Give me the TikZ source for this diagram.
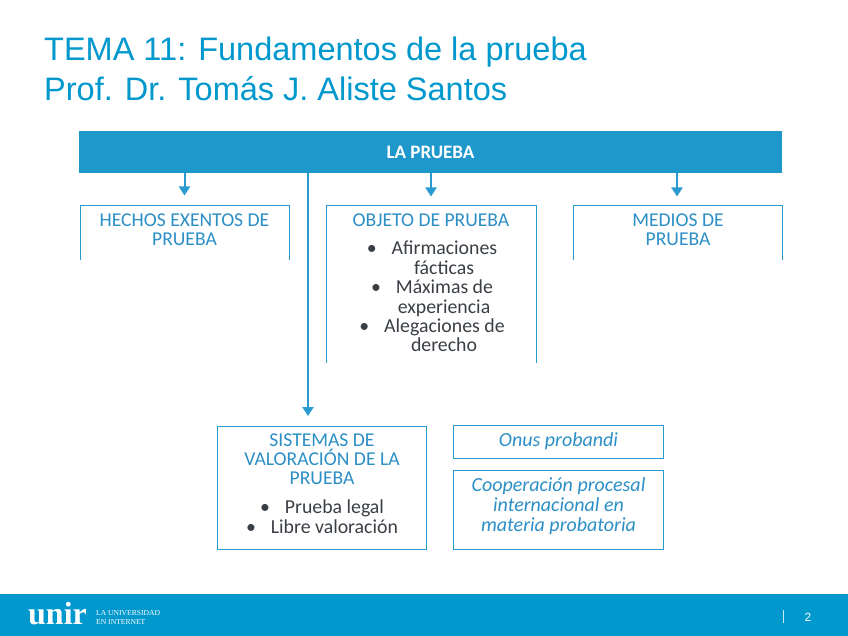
\documentclass[tikz,border=0pt]{standalone}
\usepackage{fontspec}
\setmainfont{Carlito}
\newfontfamily\titlefont{Liberation Sans}
\newfontfamily\logofont{Liberation Serif}
\usetikzlibrary{arrows.meta}
\definecolor{unirblue}{HTML}{0098CD}
\definecolor{barblue}{HTML}{1E97CB}
\definecolor{lineblue}{HTML}{2A9BD0}
\definecolor{headblue}{HTML}{2C8FC6}
\definecolor{bodygrey}{HTML}{3A3F45}
\newcommand{\vinieta}{\textbullet\hspace{15pt}}
\newcommand{\sangria}{\hspace*{24pt}}
\tikzset{x=1pt,y=-1pt,
    caja/.style={minimum width=#1,inner sep=0pt,outer sep=0pt,anchor=north},
    cabeza/.style={text=headblue,font=\fontsize{19.6}{19}\selectfont,align=center,anchor=north,inner sep=0pt},
    lista/.style={text=bodygrey,font=\fontsize{19.8}{19.4}\selectfont,align=center,anchor=north,inner sep=0pt},
    cursiva/.style={text=headblue,font=\fontsize{20}{20}\selectfont\itshape,align=center,inner sep=0pt},
    borde/.style={draw=lineblue,line width=1pt},
    flecha/.style={draw=lineblue,line width=2pt,-{Triangle[width=11pt,length=9pt]}},
    }
\begin{document}
\begin{tikzpicture}
\useasboundingbox (0,0) rectangle (848,636);
\fill[white] (0,0) rectangle (848,636);
% titulo
\node[anchor=base west,inner sep=0pt,text=unirblue,font=\fontsize{32.5}{40}\titlefont] (tituloa) at (44,61) {TEMA 11: Fundamentos de la prueba};
\node[anchor=base west,inner sep=0pt,text=unirblue,font=\fontsize{32.5}{40}\titlefont] (titulob) at (44,101) {Prof. Dr. Tomás J. Aliste Santos};
% cabecera
\node[fill=barblue,text=white,minimum width=703pt,minimum height=42pt,inner sep=0pt,font=\fontsize{19}{19}\selectfont\bfseries] (laprueba) at (430.5,152) {LA PRUEBA};
% cajas de arriba
\node[caja=209pt,minimum height=55pt] (hechos) at (184.5,205.5) {};
\node[caja=210pt,minimum height=157pt] (objeto) at (431.5,205.5) {};
\node[caja=209pt,minimum height=55pt] (medios) at (678,205.5) {};
\draw[borde] (hechos.south west) -- (hechos.north west) -- (hechos.north east) -- (hechos.south east);
\draw[borde] (objeto.south west) -- (objeto.north west) -- (objeto.north east) -- (objeto.south east);
\draw[borde] (medios.south west) -- (medios.north west) -- (medios.north east) -- (medios.south east);
\node[cabeza] (hechostxt) at (184.5,214) {HECHOS EXENTOS DE\\PRUEBA};
\node[cabeza] (objetotxt) at (431,214) {OBJETO DE PRUEBA};
\node[cabeza] (mediostxt) at (678,214) {MEDIOS DE\\PRUEBA};
\node[lista] (objetolst) at (432,241) {\vinieta Afirmaciones\\\sangria fácticas\\\vinieta Máximas de\\\sangria experiencia\\\vinieta Alegaciones de\\\sangria derecho};
% cajas de abajo
\node[caja=209.5pt,minimum height=123pt,draw=lineblue,line width=1pt] (sistemas) at (322,426) {};
\node[cabeza] (sistemastxt) at (322,434) {SISTEMAS DE\\VALORACIÓN DE LA\\PRUEBA};
\node[lista] (sistemaslst) at (322,500) {\vinieta Prueba legal\\\vinieta Libre valoración};
\node[caja=209.5pt,minimum height=33pt,draw=lineblue,line width=1pt,cursiva] (onus) at (558.5,425) {Onus probandi};
\node[caja=209.5pt,minimum height=79pt,draw=lineblue,line width=1pt] (cooperacion) at (558.5,470) {};
\node[cursiva] (cooperaciontxt) at ([yshift=3.5pt]cooperacion.center) {Cooperación procesal\\internacional en\\materia probatoria};
% flechas
\draw[flecha,shorten >=10pt] (hechos.north |- laprueba.south) -- (hechos.north);
\draw[flecha,shorten >=9pt] ([xshift=-.5pt]objeto.north |- laprueba.south) -- ([xshift=-.5pt]objeto.north);
\draw[flecha,shorten >=9pt] ([xshift=-1pt]medios.north |- laprueba.south) -- ([xshift=-1pt]medios.north);
\draw[flecha,shorten >=10pt] ([xshift=-14pt]sistemas.north |- laprueba.south) -- ([xshift=-14pt]sistemas.north);
% pie
\fill[unirblue] (0,594) rectangle (848,636);
\node[anchor=base west,inner sep=0pt,text=white,font=\fontsize{32}{32}\logofont\bfseries] (logo) at (28,624) {unir};
\node[anchor=west,inner sep=0pt,text=white,align=left,font=\fontsize{7.6}{9}\logofont] (lema) at (96,617) {LA UNIVERSIDAD\\EN INTERNET};
\draw[white!80!unirblue,line width=1pt] (783,610) -- (783,623);
\node[text=white,inner sep=0pt,font=\fontsize{12}{12}\titlefont] (pagina) at (808,617) {2};
\end{tikzpicture}
\end{document}
